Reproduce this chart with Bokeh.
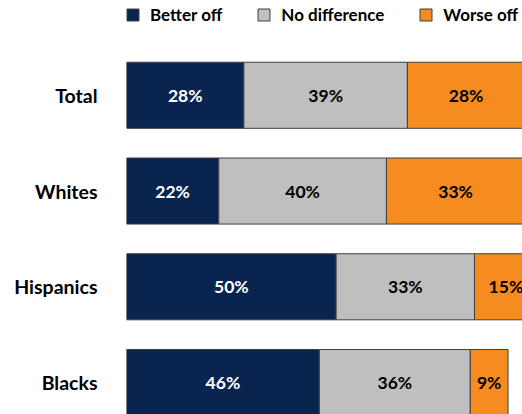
import numpy as np
from bokeh.plotting import figure
from bokeh.models import ColumnDataSource, FixedTicker
from bokeh.embed import file_html
from bokeh.resources import INLINE
from bokeh.core.properties import value

groups = ["Total", "Whites", "Hispanics", "Blacks"]
better = [28, 22, 50, 46]
nodiff = [39, 40, 33, 36]
worse = [28, 33, 15, 9]
series = ["Better off", "No difference", "Worse off"]
colors = ["#0a2450", "#bfbfbf", "#f68b1f"]
text_colors = ["white", "black", "black"]

FONT = "Lato"
n = len(groups)
ypos = [n - 1 - i for i in range(n)]

p = figure(width=522, height=414, output_backend="svg", toolbar_location=None,
           x_range=(0, 94.45), y_range=(-0.334, 3.99),
           min_border_left=126, min_border_right=0, min_border_top=0, min_border_bottom=0)

vals = np.array([better, nodiff, worse], dtype=float)
rights = np.cumsum(vals, axis=0)
lefts = rights - vals

for k, name in enumerate(series):
    src = ColumnDataSource(dict(
        y=ypos, left=lefts[k], right=rights[k],
        mid=(lefts[k] + rights[k]) / 2,
        lab=[f"{int(v)}%" for v in vals[k]],
    ))
    p.hbar(y="y", left="left", right="right", height=0.69, source=src,
           fill_color=colors[k], line_color="#3f3f3f", line_width=1,
           legend_label=name)
    p.text(x="mid", y="y", text="lab", source=src, text_align="center",
           text_baseline="middle", text_color=text_colors[k],
           text_font=value(FONT), text_font_style="bold", text_font_size="17.5px")

p.xaxis.visible = False
p.xgrid.visible = False
p.ygrid.visible = False
p.outline_line_color = None

yax = p.yaxis[0]
yax.ticker = FixedTicker(ticks=ypos)
yax.major_label_overrides = {y: g for y, g in zip(ypos, groups)}
yax.axis_line_color = None
yax.major_tick_line_color = None
yax.minor_tick_line_color = None
yax.major_label_standoff = 23
yax.major_label_text_font = FONT
yax.major_label_text_font_style = "bold"
yax.major_label_text_font_size = "19.5px"
yax.major_label_text_color = "black"

lg = p.legend[0]
lg.orientation = "horizontal"
lg.location = (-1, 389)
lg.padding = 0
lg.margin = 0
lg.spacing = 34
lg.glyph_width = 15
lg.glyph_height = 15
lg.label_standoff = 10
lg.border_line_color = None
lg.background_fill_alpha = 0
lg.label_text_font = FONT
lg.label_text_font_style = "bold"
lg.label_text_font_size = "17px"
lg.label_text_color = "black"

open("out.html", "w").write(file_html(p, INLINE))
